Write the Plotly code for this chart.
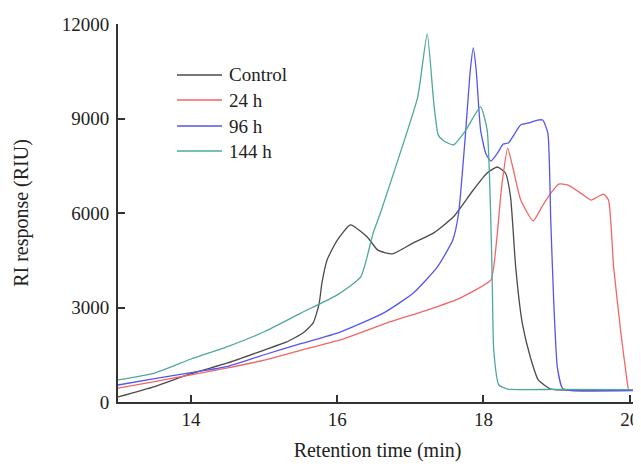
import plotly.graph_objects as go

# Control
ctrl_x = [13.0, 13.5, 14.0, 14.5, 15.0, 15.3, 15.53, 15.67, 15.75, 15.79, 15.86, 16.0, 16.18, 16.41, 16.55, 16.75,
          17.04, 17.32, 17.59, 17.86, 18.05, 18.19, 18.30, 18.37, 18.44, 18.53, 18.64, 18.75, 18.92, 19.2, 20.1]
ctrl_y = [160, 490, 900, 1240, 1650, 1900, 2190, 2510, 3100, 3780, 4510, 5140, 5620, 5240, 4830, 4700,
          5050, 5370, 5880, 6730, 7270, 7460, 7270, 6510, 4290, 2510, 1430, 700, 410, 380, 380]

# 24 h
h24_x = [13.0, 13.5, 14.0, 14.5, 15.0, 15.5, 16.04, 16.68, 17.23, 17.68, 18.10, 18.14, 18.19, 18.23, 18.26, 18.33,
         18.40, 18.51, 18.68, 18.80, 18.92, 19.03, 19.15, 19.33, 19.47, 19.64, 19.71, 19.78, 19.88, 19.95, 19.99, 20.1]
h24_y = [440, 650, 860, 1080, 1330, 1640, 1970, 2510, 2920, 3300, 3870, 4290, 5370, 6410, 7050, 8060,
         7460, 6410, 5750, 6200, 6630, 6920, 6890, 6630, 6410, 6600, 6410, 4290, 2190, 920, 380, 380]

# 96 h
h96_x = [13.0, 13.5, 14.0, 14.5, 15.0, 15.5, 16.04, 16.63, 17.04, 17.37, 17.58, 17.66, 17.75, 17.82, 17.86, 17.90,
         17.96, 18.03, 18.10, 18.19, 18.27, 18.34, 18.51, 18.62, 18.74, 18.81, 18.88, 18.92, 18.96, 19.01, 19.08, 19.2, 20.1]
h96_y = [540, 740, 930, 1130, 1500, 1850, 2220, 2820, 3460, 4290, 5140, 6000, 8410, 10540, 11240, 10540,
         8640, 7900, 7650, 7900, 8190, 8220, 8800, 8860, 8950, 8950, 8540, 5780, 3240, 1110, 440, 360, 360]

# 144 h
h144_x = [13.0, 13.5, 14.0, 14.5, 15.0, 15.5, 16.0, 16.32, 16.49, 16.59, 16.86, 17.10, 17.23, 17.32, 17.38, 17.45,
          17.59, 17.75, 17.96, 18.05, 18.10, 18.12, 18.14, 18.21, 18.33, 19.0, 20.1]
h144_y = [700, 920, 1365, 1760, 2230, 2820, 3400, 3970, 5360, 6000, 7900, 9680, 11684, 9490, 8480, 8300,
          8160, 8600, 9370, 8640, 5780, 3780, 1650, 540, 410, 400, 390]

names = ["Control", "24 h", "96 h", "144 h"]
colors = ["#4a4a4a", "#f06666", "#5555ee", "#4fa89b"]
series = [(ctrl_x, ctrl_y), (h24_x, h24_y), (h96_x, h96_y), (h144_x, h144_y)]

x_ticks = [14, 16, 18, 20]
y_ticks = [0, 3000, 6000, 9000, 12000]

FONT = "Liberation Serif"

fig = go.Figure()
for (xs, ys), n, c in zip(series, names, colors):
    fig.add_trace(go.Scatter(x=xs, y=ys, name=n, mode="lines", showlegend=False,
                             line=dict(color=c, width=1.3, shape="spline", smoothing=0.5)))

# manual legend (paper coordinates relative to the plot area)
W, H, L, T = 519.0, 378.0, 118.0, 24.0
def px(x):
    return (x - L) / W
def py(y):
    return (T + H - y) / H
leg_rows = [75, 100, 126, 151]
shapes = []
annotations = []
for n, c, r in zip(names, colors, leg_rows):
    shapes.append(dict(type="line", xref="paper", yref="paper", x0=px(177), x1=px(222), y0=py(r), y1=py(r),
                       line=dict(color=c, width=1.5)))
    annotations.append(dict(xref="paper", yref="paper", x=px(227), y=py(r), text=n, showarrow=False,
                            xanchor="left", yanchor="middle", font=dict(family=FONT, size=19, color="#222")))

# page body has an 8px margin, so the figure is 8px smaller and margins shifted by 8px
fig.update_layout(
    width=633, height=458,
    margin=dict(l=110, r=4, t=16, b=64),
    paper_bgcolor="white", plot_bgcolor="white",
    font=dict(family=FONT, size=19, color="#222"),
    showlegend=False,
    shapes=shapes, annotations=annotations,
)
fig.update_xaxes(range=[13, 20.1], tickvals=x_ticks, ticktext=[str(v) for v in x_ticks],
                 showline=True, linecolor="#333", linewidth=2, ticks="inside", ticklen=7,
                 tickwidth=2, tickcolor="#333", showgrid=False, zeroline=False, automargin=False,
                 ticklabelstandoff=-1, ticklabeloverflow="allow",
                 title=dict(text="Retention time (min)", font=dict(family=FONT, size=20), standoff=14))
fig.update_yaxes(range=[0, 12000], tickvals=y_ticks, ticktext=[str(v) for v in y_ticks],
                 showline=True, linecolor="#333", linewidth=2, ticks="inside", ticklen=7,
                 tickwidth=2, tickcolor="#333", showgrid=False, zeroline=False, automargin=False,
                 ticklabelstandoff=3,
                 title=dict(text="RI response (RIU)", font=dict(family=FONT, size=20), standoff=28))

fig.write_html("out.html")
